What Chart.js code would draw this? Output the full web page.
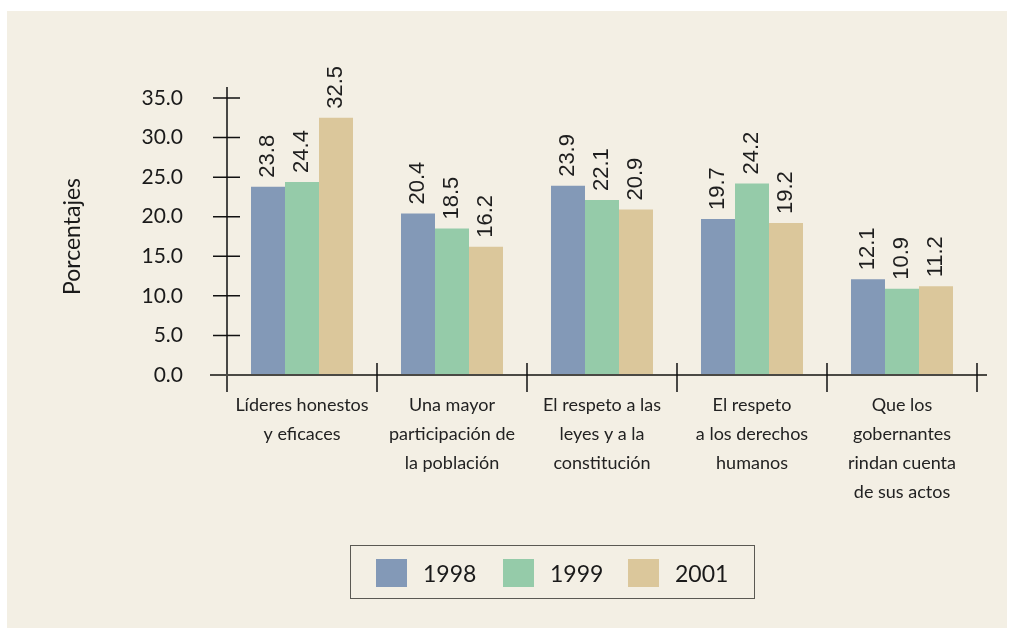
<!DOCTYPE html>
<html>
<head>
<meta charset="utf-8">
<script src="https://cdn.jsdelivr.net/npm/chart.js@4/dist/chart.umd.min.js"></script>
<style>
  body { margin: 0; background: #fff; }
  #panel { position: absolute; left: 7px; top: 11px; width: 1000px; height: 617px; background: #f3efe4; }
  #myChart { position: absolute; left: 0; top: 0; }
  #legend { position: absolute; left: 350px; top: 545px; width: 403px; height: 52px;
            border: 1.5px solid #5a5953; font-family: Lato, sans-serif; font-size: 23px; color: #1a1a1a; }
  .item { position: absolute; top: 13px; height: 28px; line-height: 28px; }
  .sw { position: absolute; left: 0; top: 0; width: 31px; height: 28px; }
  .lbl { position: absolute; left: 47px; top: 0; white-space: nowrap; }
</style>
</head>
<body>
<div id="panel"></div>
<canvas id="myChart" width="1013" height="634"></canvas>
<div id="legend"></div>
<script>
const ctx = document.getElementById('myChart').getContext('2d');

const labels = [
    ["Líderes honestos", "y eficaces"],
    ["Una mayor", "participación de", "la población"],
    ["El respeto a las", "leyes y a la", "constitución"],
    ["El respeto", "a los derechos", "humanos"],
    ["Que los", "gobernantes", "rindan cuenta", "de sus actos"],
];
const years = ["1998", "1999", "2001"];
const values1998 = [23.8, 20.4, 23.9, 19.7, 12.1];
const values1999 = [24.4, 18.5, 22.1, 24.2, 10.9];
const values2001 = [32.5, 16.2, 20.9, 19.2, 11.2];
const colors = ['#8399b7', '#95cba9', '#dbc79b'];

// labels above each bar, rotated
const valueLabels = {
    id: 'valueLabels',
    afterDatasetsDraw(chart) {
        const c = chart.ctx;
        c.save();
        c.font = '22px "Liberation Sans", Arial, sans-serif';
        c.fillStyle = '#1e1e1e';
        c.textAlign = 'left';
        c.textBaseline = 'middle';
        chart.data.datasets.forEach((ds, i) => {
            chart.getDatasetMeta(i).data.forEach((bar, j) => {
                c.save();
                c.translate(bar.x, bar.y - 9);
                c.rotate(-Math.PI / 2);
                c.fillText(ds.data[j].toFixed(1), 0, 0);
                c.restore();
            });
        });
        c.restore();
    }
};

// axes with crossing tick marks
const crossAxes = {
    id: 'crossAxes',
    afterDraw(chart) {
        const c = chart.ctx;
        const x = chart.scales.x, y = chart.scales.y;
        const left = chart.chartArea.left, bottom = chart.chartArea.bottom;
        c.save();
        // y axis
        c.strokeStyle = '#111';
        c.lineWidth = 1.5;
        c.beginPath();
        c.moveTo(left, y.getPixelForValue(36.4));
        c.lineTo(left, bottom + 17);
        y.ticks.forEach(t => {
            const py = y.getPixelForValue(t.value);
            if (t.value === 0) return;
            c.moveTo(left - 14, py);
            c.lineTo(left + 13, py);
        });
        c.stroke();
        // x axis
        c.strokeStyle = '#4a4944';
        c.lineWidth = 2;
        c.beginPath();
        c.moveTo(left - 17, bottom);
        c.lineTo(chart.chartArea.right + 10, bottom);
        c.stroke();
        c.strokeStyle = '#111';
        c.lineWidth = 1.5;
        c.beginPath();
        const step = x.getPixelForValue(1) - x.getPixelForValue(0);
        for (let i = 1; i <= labels.length; i++) {
            const px = x.getPixelForValue(i) - step / 2;
            c.moveTo(px, bottom - 12);
            c.lineTo(px, bottom + 17);
        }
        c.stroke();
        c.restore();
    }
};

const data = {
    labels: labels,
    datasets: [
        { label: years[0], data: values1998, backgroundColor: colors[0] },
        { label: years[1], data: values1999, backgroundColor: colors[1] },
        { label: years[2], data: values2001, backgroundColor: colors[2] },
    ],
};

const config = {
    type: 'bar',
    data: data,
    options: {
        responsive: false,
        animation: false,
        layout: { padding: { top: 98, right: 36, left: 0, bottom: 0 } },
        datasets: { bar: { categoryPercentage: 0.68, barPercentage: 1 } },
        plugins: {
            legend: { display: false },
            tooltip: { enabled: false },
        },
        scales: {
            x: {
                grid: { display: false, drawTicks: false },
                border: { display: false },
                ticks: {
                    color: '#222',
                    padding: 16,
                    maxRotation: 0,
                    autoSkip: false,
                    font: { family: 'Lato, sans-serif', size: 18, lineHeight: 1.6 },
                },
                afterFit(scale) { scale.height = 259; },
            },
            y: {
                min: 0,
                max: 35,
                grid: { display: false, drawTicks: false },
                border: { display: false },
                ticks: {
                    stepSize: 5,
                    color: '#1a1a1a',
                    padding: 44,
                    font: { family: 'Lato, sans-serif', size: 21 },
                    callback: v => v.toFixed(1),
                },
                title: {
                    display: true,
                    text: 'Porcentajes',
                    color: '#1a1a1a',
                    padding: { top: 59, bottom: 0 },
                    font: { family: 'Lato, sans-serif', size: 23 },
                },
                afterFit(scale) { scale.width = 227; },
            },
        },
    },
    plugins: [valueLabels, crossAxes],
};

const myChart = new Chart(ctx, config);

// legend
const legend = document.getElementById('legend');
const offsets = [25, 152, 277];
years.forEach((yr, i) => {
    const item = document.createElement('div');
    item.className = 'item';
    item.style.left = offsets[i] + 'px';
    item.innerHTML = '<div class="sw" style="background:' + colors[i] + '"></div><span class="lbl">' + yr + '</span>';
    legend.appendChild(item);
});
</script>
</body>
</html>
